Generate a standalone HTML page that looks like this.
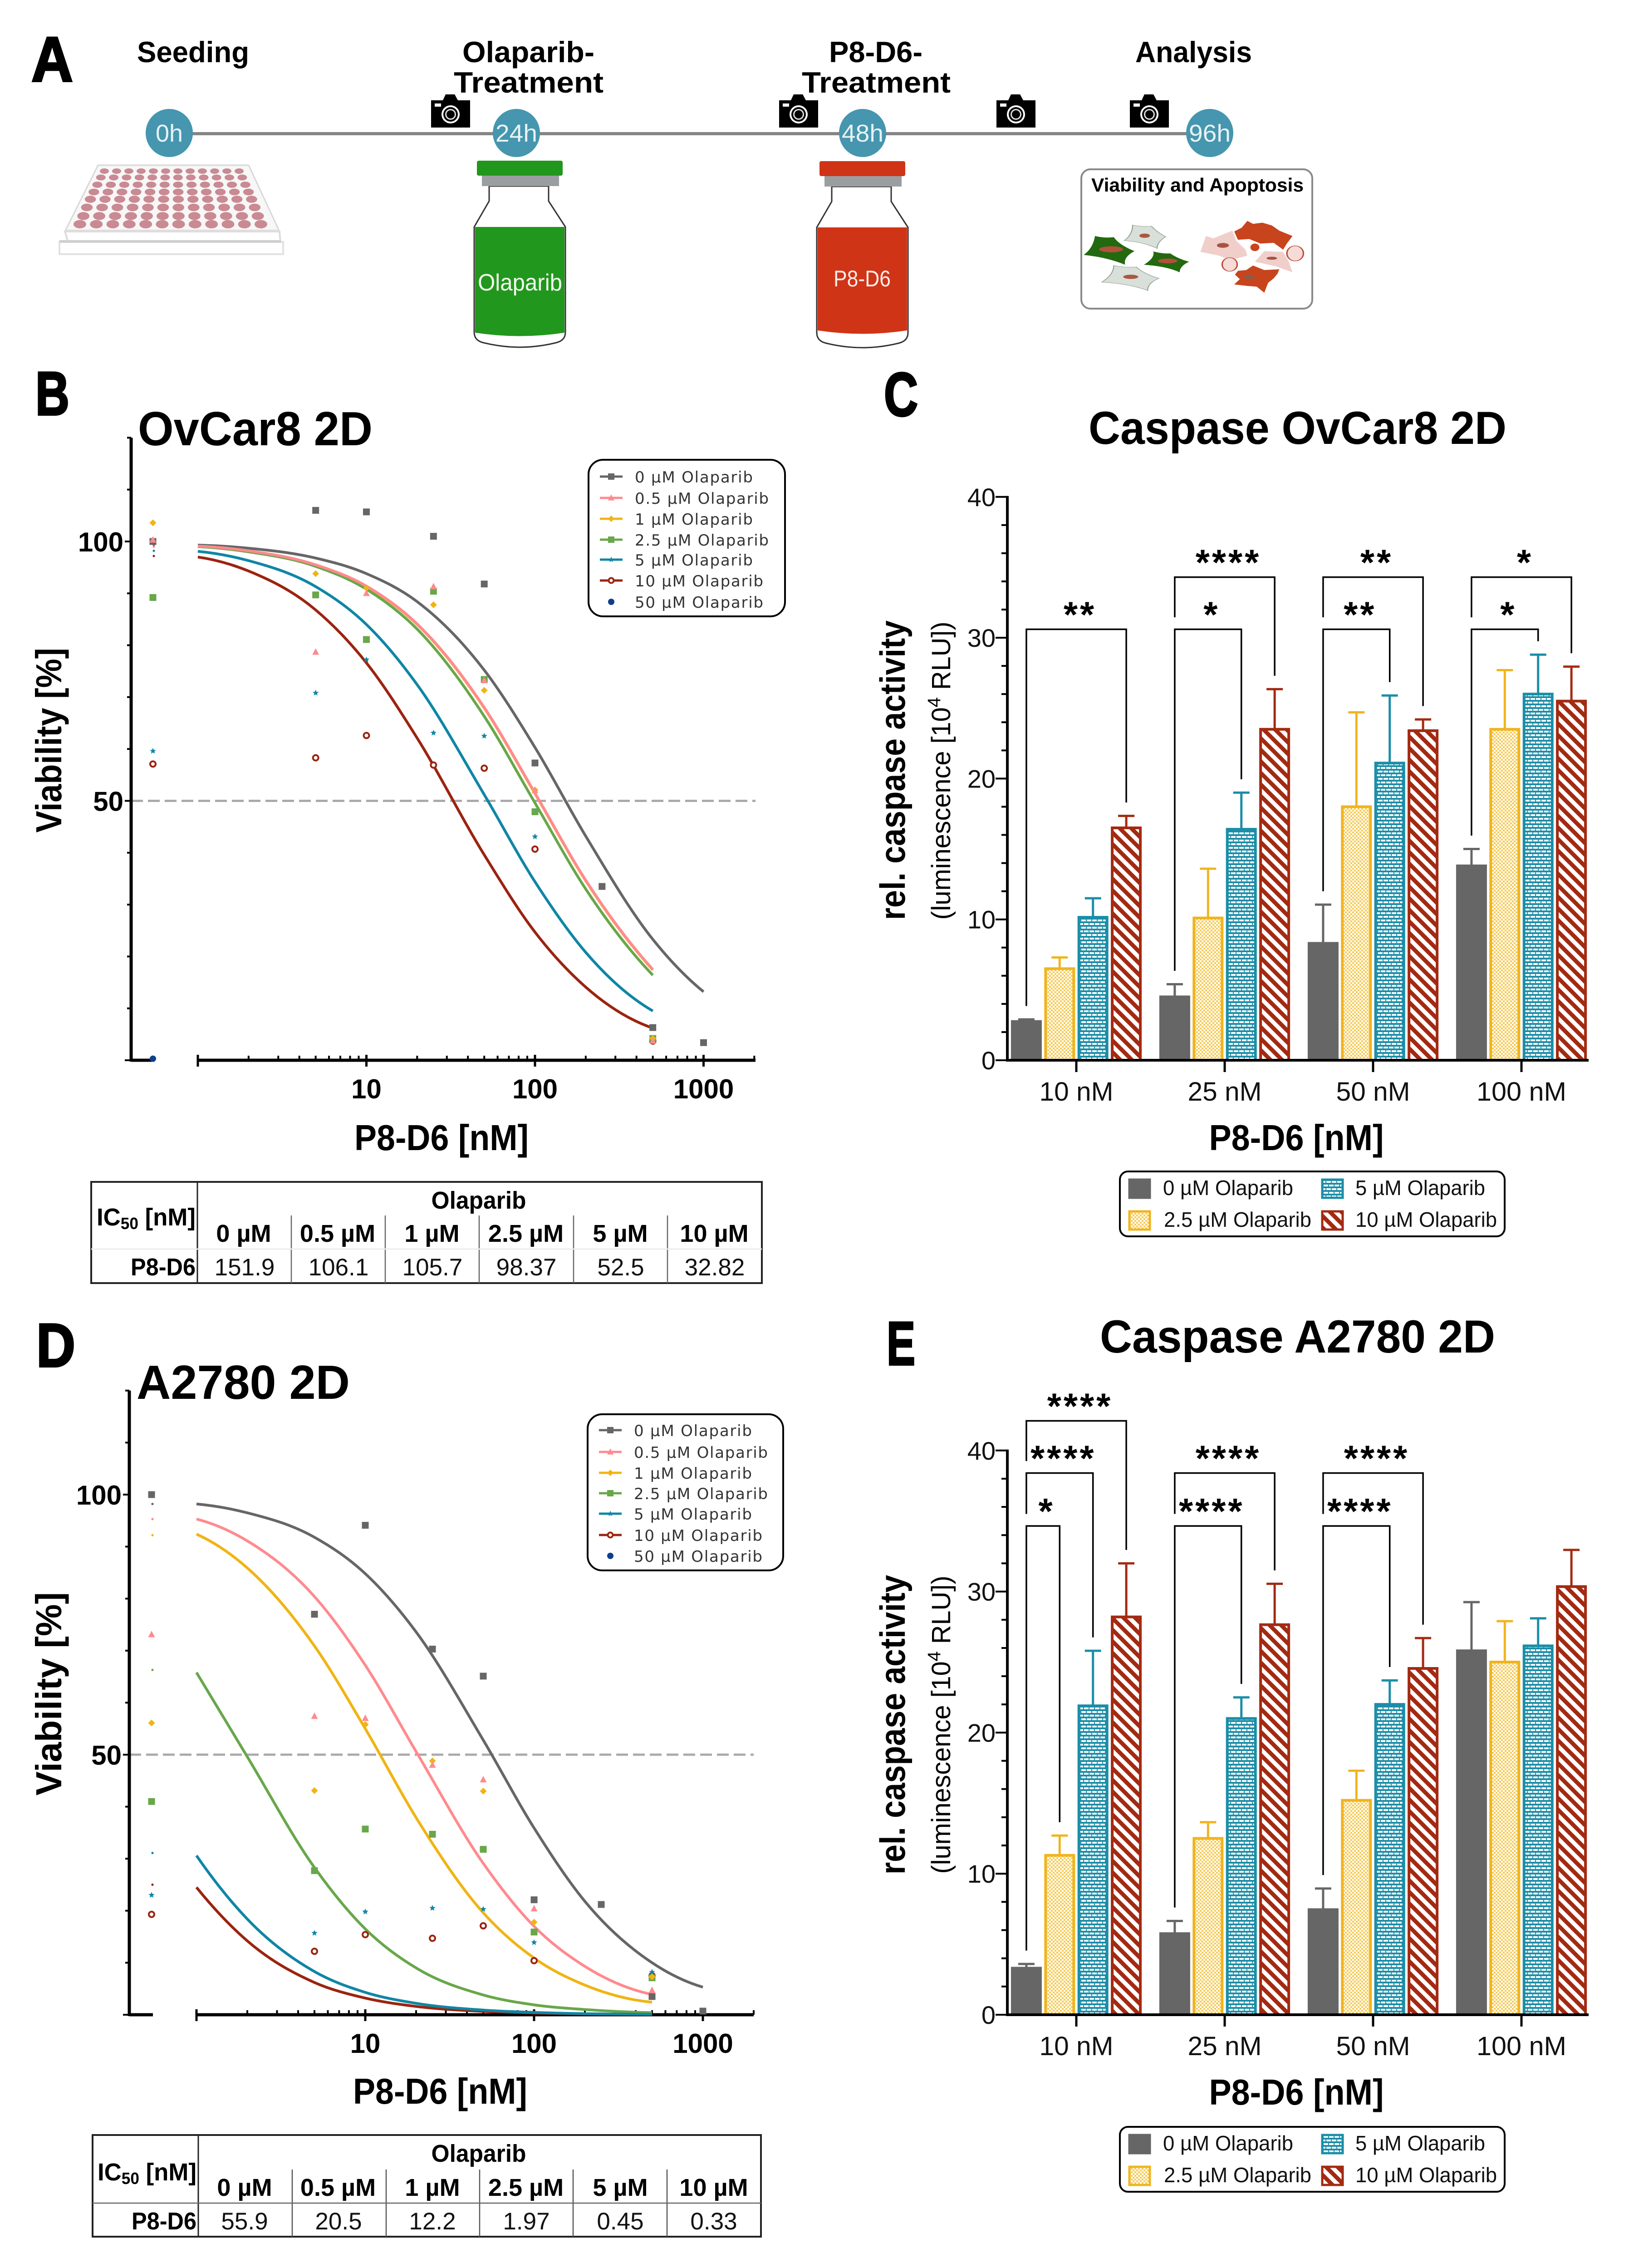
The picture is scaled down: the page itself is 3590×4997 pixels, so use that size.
<!DOCTYPE html>
<html lang="en">
<head>
<meta charset="utf-8">
<title>P8-D6 and Olaparib viability and caspase figure</title>
<style>
html,body{margin:0;padding:0;background:#fff}
svg{display:block}
text{font-family:"Liberation Sans",sans-serif;fill:#000}
.b{font-weight:700}
.pl{font-weight:700;stroke:#000;stroke-width:4px}
.th{font-weight:700;font-size:54px;text-anchor:middle}
.td{font-size:53px;text-anchor:middle;fill:#111}
.leg{font-size:46px;fill:#111}
</style>
</head>
<body>
<svg id="figure" xmlns="http://www.w3.org/2000/svg" width="3590" height="4997" viewBox="0 0 3590 4997">
<defs>
  <pattern id="pat-yellow" patternUnits="userSpaceOnUse" width="8" height="8">
    <rect width="8" height="8" fill="#f5cb58"/><rect width="4" height="4" fill="#fff"/><rect x="4" y="4" width="4" height="4" fill="#fff"/>
  </pattern>
  <pattern id="pat-teal" patternUnits="userSpaceOnUse" width="24" height="16">
    <rect width="24" height="16" fill="#1f8ea8"/>
    <rect x="1" y="2" width="10" height="4" fill="#fff"/><rect x="13" y="2" width="10" height="4" fill="#fff"/>
    <rect x="-5" y="10" width="10" height="4" fill="#fff"/><rect x="7" y="10" width="10" height="4" fill="#fff"/><rect x="19" y="10" width="10" height="4" fill="#fff"/>
  </pattern>
  <pattern id="pat-red" patternUnits="userSpaceOnUse" width="18" height="18" patternTransform="rotate(-45)">
    <rect width="18" height="18" fill="#fff"/><rect width="9" height="18" fill="#a32a12"/>
  </pattern>
  <g id="camera">
    <path d="M0,13H26L32,0H52L59,13H86V73H0Z" fill="#000"/>
    <rect x="8" y="20" width="14" height="7" fill="#fff"/>
    <circle cx="43" cy="44" r="20" fill="#fff"/><circle cx="43" cy="44" r="16" fill="#000"/><circle cx="43" cy="44" r="12" fill="#ddd"/><circle cx="43" cy="44" r="9" fill="#000"/>
  </g>
</defs>
<rect width="3590" height="4997" fill="#fff"/>

<!-- PANEL A -->
<g>
  <text class="pl" x="69" y="179" font-size="140" textLength="92" lengthAdjust="spacingAndGlyphs">A</text>
  <text class="b" x="302" y="137" font-size="65" textLength="247" lengthAdjust="spacingAndGlyphs">Seeding</text>
  <text class="b" x="1019" y="137" font-size="65" textLength="291" lengthAdjust="spacingAndGlyphs">Olaparib-</text>
  <text class="b" x="1000" y="204" font-size="65" textLength="330" lengthAdjust="spacingAndGlyphs">Treatment</text>
  <text class="b" x="1827" y="137" font-size="65" textLength="206" lengthAdjust="spacingAndGlyphs">P8-D6-</text>
  <text class="b" x="1767" y="204" font-size="65" textLength="328" lengthAdjust="spacingAndGlyphs">Treatment</text>
  <text class="b" x="2502" y="137" font-size="65" textLength="257" lengthAdjust="spacingAndGlyphs">Analysis</text>

  <rect x="373" y="291" width="2292" height="7" fill="#858585"/>
  <g><ellipse cx="373" cy="293" rx="52" ry="53" fill="#4596ae"/><text x="373" y="312" font-size="54" text-anchor="middle" style="fill:#e8f2f5">0h</text></g>
  <g><ellipse cx="1138" cy="293" rx="52" ry="53" fill="#4596ae"/><text x="1138" y="312" font-size="54" text-anchor="middle" textLength="92" lengthAdjust="spacingAndGlyphs" style="fill:#e8f2f5">24h</text></g>
  <g><ellipse cx="1901" cy="293" rx="52" ry="53" fill="#4596ae"/><text x="1901" y="312" font-size="54" text-anchor="middle" textLength="92" lengthAdjust="spacingAndGlyphs" style="fill:#e8f2f5">48h</text></g>
  <g><ellipse cx="2666" cy="293" rx="52" ry="53" fill="#4596ae"/><text x="2666" y="312" font-size="54" text-anchor="middle" textLength="92" lengthAdjust="spacingAndGlyphs" style="fill:#e8f2f5">96h</text></g>

  <use href="#camera" x="950" y="208"/>
  <use href="#camera" x="1717" y="208"/>
  <use href="#camera" x="2196" y="208"/>
  <use href="#camera" x="2490" y="208"/>

  <g id="plate">
    <path d="M131,533H624V560H131Z" fill="#fff" stroke="#e2e2e2" stroke-width="4"/>
    <path d="M143,510L150,533H618L616,510Z" fill="#fff" stroke="#dcdcdc" stroke-width="4"/>
    <path d="M216,364H548L616,510H143Z" fill="#f7f7f7" stroke="#d8d8d8" stroke-width="3"/>
    <rect x="131" y="529" width="488" height="6" fill="#cfcfcf"/>
    <rect x="143" y="506" width="473" height="5" fill="#dedede"/>
  </g>

  <g>
    <path d="M1078,410V443L1045,500V732Q1045,750 1065,755Q1146,775 1226,755Q1246,750 1246,732V500L1209,443V410Z" fill="#fff" stroke="#333" stroke-width="3"/>
    <path d="M1047,500H1244V733Q1146,748 1047,733Z" fill="#22971d"/>
    <rect x="1062" y="386" width="170" height="24" fill="#9b9ea1"/>
    <rect x="1051" y="354" width="189" height="33" rx="4" fill="#22971d"/>
    <text x="1146" y="640" font-size="52" text-anchor="middle" textLength="186" lengthAdjust="spacingAndGlyphs" style="fill:#f2f8f0">Olaparib</text>
  </g>
  <g transform="translate(755,1)">
    <path d="M1078,410V443L1045,500V732Q1045,750 1065,755Q1146,775 1226,755Q1246,750 1246,732V500L1209,443V410Z" fill="#fff" stroke="#333" stroke-width="3"/>
    <path d="M1047,500H1244V727Q1146,742 1047,727Z" fill="#d03416"/>
    <rect x="1062" y="386" width="170" height="24" fill="#9b9ea1"/>
    <rect x="1051" y="354" width="189" height="33" rx="4" fill="#d03416"/>
    <text x="1145" y="630" font-size="50" text-anchor="middle" textLength="126" lengthAdjust="spacingAndGlyphs" style="fill:#f8eeea">P8-D6</text>
  </g>

  <g>
    <rect x="2383" y="373" width="509" height="307" rx="20" fill="#fff" stroke="#8a8a8a" stroke-width="4"/>
    <text class="b" x="2405" y="422" font-size="42" textLength="468" lengthAdjust="spacingAndGlyphs">Viability and Apoptosis</text>
    <g transform="translate(1700,200) scale(0.8292,0.3333)">
      <path d="M938,990Q960,950 960,888Q985,900 1010,895Q1025,935 1048,965Q1025,1000 1025,1042Q990,1000 938,990Z" fill="#d9dfd9" stroke="#9aa89a" stroke-width="3"/>
      <ellipse cx="992" cy="958" rx="14" ry="14" fill="#a9583f"/>
      <path d="M878,1265Q910,1215 910,1155Q940,1170 970,1165Q990,1210 1030,1240Q1000,1270 1000,1320Q950,1275 878,1265Z" fill="#d9dfd9" stroke="#9aa89a" stroke-width="3"/>
      <ellipse cx="955" cy="1230" rx="20" ry="14" fill="#a9583f"/>
      <path d="M830,1085Q855,1040 860,960Q885,975 910,968Q925,1020 965,1060Q935,1100 940,1150Q890,1100 830,1085Z" fill="#22690f"/>
      <ellipse cx="903" cy="1048" rx="32" ry="20" fill="#b0513a"/>
      <path d="M990,1150Q1020,1105 1015,1062Q1040,1078 1060,1075Q1080,1110 1110,1130Q1085,1160 1085,1200Q1050,1160 990,1150Z" fill="#22690f"/>
      <ellipse cx="1053" cy="1125" rx="26" ry="16" fill="#b0513a"/>
      <path d="M1140,1065L1155,960L1175,975L1225,925L1235,990L1260,1050L1265,1090L1220,1120L1190,1090Z" fill="#f0cfcb"/>
      <path d="M1285,1130L1310,1060L1360,1065L1375,1130L1385,1200L1340,1160Z" fill="#f0cfcb"/>
      <path d="M1230,930L1250,905L1265,860L1280,880L1305,872L1330,890L1350,925L1385,960L1370,1010L1360,1050L1335,1005L1300,1010L1270,980L1240,985Z" fill="#c8441c"/>
      <path d="M1230,1280L1245,1245L1232,1215L1240,1190L1262,1185L1280,1155L1310,1185L1350,1180L1345,1210L1335,1240L1320,1270L1310,1335L1290,1295L1265,1290Z" fill="#c8441c"/>
      <ellipse cx="1285" cy="1035" rx="12" ry="25" fill="#c8441c"/>
      <ellipse cx="1392" cy="1075" rx="22" ry="50" fill="#f6dcd8" stroke="#c0503c" stroke-width="4"/>
      <ellipse cx="1218" cy="1148" rx="20" ry="45" fill="#f6dcd8" stroke="#c0503c" stroke-width="4"/>
      <ellipse cx="1200" cy="1022" rx="16" ry="16" fill="#a8533f"/>
      <ellipse cx="1330" cy="1107" rx="14" ry="10" fill="#a8533f"/>
      <ellipse cx="1270" cy="1230" rx="14" ry="15" fill="#8c5a48"/>
    </g>
  </g>
</g>

<!-- PANEL B static text -->
<g id="panel-b">
  <text class="pl" x="78" y="914" font-size="136" textLength="75" lengthAdjust="spacingAndGlyphs">B</text>
  <text class="b" x="304" y="981" font-size="106" textLength="517" lengthAdjust="spacingAndGlyphs">OvCar8 2D</text>
  <text class="b" transform="translate(135,1631) rotate(-90)" font-size="80" text-anchor="middle" textLength="407" lengthAdjust="spacingAndGlyphs">Viability [%]</text>
  <text class="b" x="973" y="2534" font-size="80" text-anchor="middle" textLength="384" lengthAdjust="spacingAndGlyphs">P8-D6 [nM]</text>
</g>
<g>
  <rect x="201" y="2604" width="1478" height="223" fill="none" stroke="#222" stroke-width="4"/>
  <path d="M435,2604V2827" stroke="#222" stroke-width="3"/>
  <path d="M642,2678V2827M849,2678V2827M1056,2678V2827M1264,2678V2827M1471,2678V2827" stroke="#666" stroke-width="2.5"/>
  <path d="M201,2752H1679" stroke="#ececec" stroke-width="3"/>
  <text class="b" x="213" y="2700" font-size="54" textLength="218" lengthAdjust="spacingAndGlyphs">IC<tspan font-size="36" dy="8">50</tspan><tspan dy="-8"> [nM]</tspan></text>
  <text class="th" x="1055" y="2663" textLength="209" lengthAdjust="spacingAndGlyphs">Olaparib</text>
  <text class="th" x="537" y="2736">0 µM</text>
  <text class="th" x="744" y="2736">0.5 µM</text>
  <text class="th" x="952" y="2736">1 µM</text>
  <text class="th" x="1159" y="2736">2.5 µM</text>
  <text class="th" x="1367" y="2736">5 µM</text>
  <text class="th" x="1574" y="2736">10 µM</text>
  <text class="b" x="431" y="2810" font-size="54" text-anchor="end" textLength="143" lengthAdjust="spacingAndGlyphs">P8-D6</text>
  <text class="td" x="539" y="2810">151.9</text>
  <text class="td" x="746" y="2810">106.1</text>
  <text class="td" x="953" y="2810">105.7</text>
  <text class="td" x="1160" y="2810">98.37</text>
  <text class="td" x="1368" y="2810">52.5</text>
  <text class="td" x="1575" y="2810">32.82</text>
</g>

<!-- PANEL C static text -->
<g id="panel-c">
  <text class="pl" x="1948" y="916" font-size="136" textLength="75" lengthAdjust="spacingAndGlyphs">C</text>
  <text class="b" x="2399" y="978" font-size="102" textLength="921" lengthAdjust="spacingAndGlyphs">Caspase OvCar8 2D</text>
  <text class="b" transform="translate(1994,1697) rotate(-90)" font-size="78" text-anchor="middle" textLength="660" lengthAdjust="spacingAndGlyphs">rel. caspase activity</text>
  <text transform="translate(2094,1698) rotate(-90)" font-size="58" text-anchor="middle" textLength="657" lengthAdjust="spacingAndGlyphs">(luminescence [10<tspan font-size="40" dy="-22">4</tspan><tspan dy="22"> RLU])</tspan></text>
  <text class="b" x="2857" y="2534" font-size="80" text-anchor="middle" textLength="385" lengthAdjust="spacingAndGlyphs">P8-D6 [nM]</text>
</g>

<!-- PANEL D static text -->
<g id="panel-d">
  <text class="pl" x="80" y="3011" font-size="136" textLength="86" lengthAdjust="spacingAndGlyphs">D</text>
  <text class="b" x="301" y="3082" font-size="106" textLength="470" lengthAdjust="spacingAndGlyphs">A2780 2D</text>
  <text class="b" transform="translate(135,3732) rotate(-90)" font-size="80" text-anchor="middle" textLength="448" lengthAdjust="spacingAndGlyphs">Viability [%]</text>
  <text class="b" x="970" y="4635" font-size="80" text-anchor="middle" textLength="384" lengthAdjust="spacingAndGlyphs">P8-D6 [nM]</text>
</g>
<g>
  <rect x="204" y="4704" width="1473" height="224" fill="none" stroke="#222" stroke-width="4"/>
  <path d="M437,4704V4928" stroke="#222" stroke-width="3"/>
  <path d="M644,4780V4928M851,4780V4928M1057,4780V4928M1263,4780V4928M1470,4780V4928" stroke="#555" stroke-width="2.5"/>
  <path d="M204,4854H1677" stroke="#666" stroke-width="2.5"/>
  <text class="b" x="215" y="4804" font-size="54" textLength="218" lengthAdjust="spacingAndGlyphs">IC<tspan font-size="36" dy="8">50</tspan><tspan dy="-8"> [nM]</tspan></text>
  <text class="th" x="1055" y="4763" textLength="209" lengthAdjust="spacingAndGlyphs">Olaparib</text>
  <text class="th" x="539" y="4838">0 µM</text>
  <text class="th" x="745" y="4838">0.5 µM</text>
  <text class="th" x="953" y="4838">1 µM</text>
  <text class="th" x="1159" y="4838">2.5 µM</text>
  <text class="th" x="1367" y="4838">5 µM</text>
  <text class="th" x="1573" y="4838">10 µM</text>
  <text class="b" x="433" y="4912" font-size="54" text-anchor="end" textLength="143" lengthAdjust="spacingAndGlyphs">P8-D6</text>
  <text class="td" x="539" y="4912">55.9</text>
  <text class="td" x="746" y="4912">20.5</text>
  <text class="td" x="953" y="4912">12.2</text>
  <text class="td" x="1160" y="4912">1.97</text>
  <text class="td" x="1367" y="4912">0.45</text>
  <text class="td" x="1573" y="4912">0.33</text>
</g>

<!-- PANEL E static text -->
<g id="panel-e">
  <text class="pl" x="1954" y="3007" font-size="136" textLength="63" lengthAdjust="spacingAndGlyphs">E</text>
  <text class="b" x="2424" y="2980" font-size="102" textLength="871" lengthAdjust="spacingAndGlyphs">Caspase A2780 2D</text>
  <text class="b" transform="translate(1994,3800) rotate(-90)" font-size="78" text-anchor="middle" textLength="660" lengthAdjust="spacingAndGlyphs">rel. caspase activity</text>
  <text transform="translate(2094,3800) rotate(-90)" font-size="58" text-anchor="middle" textLength="657" lengthAdjust="spacingAndGlyphs">(luminescence [10<tspan font-size="40" dy="-22">4</tspan><tspan dy="22"> RLU])</tspan></text>
  <text class="b" x="2857" y="4637" font-size="80" text-anchor="middle" textLength="385" lengthAdjust="spacingAndGlyphs">P8-D6 [nM]</text>
</g>
</svg>

<script>
/* ---------- shared categories ---------- */
const doseLegendLabels = ['0 µM Olaparib','0.5 µM Olaparib','1 µM Olaparib','2.5 µM Olaparib','5 µM Olaparib','10 µM Olaparib','50 µM Olaparib'];
const fitDoses = [1,2,5,10,20,50,100,200,500,1000];
const pointDoses = [0,5,10,25,50,100,500];
const controlDoses = [0,5,10,25,50,100,250,500,1000];
const xTickLabels = [10,100,1000];
const viabilityTicks = [0,10,20,30,40,50,60,70,80,90,100,110,120];
const viabilityLabels = [50,100];

/* ---------- Panel B: OvCar8 viability ---------- */
const bFit0 = [99.3,98.7,96.8,93.8,88.4,75.2,60.3,43.2,23.3,13.2];
const bFit05 = [99.1,98.2,95.5,91.4,84.1,68.0,51.5,34.7,17.5];
const bFit1 = [99.1,98.1,95.5,91.3,84.0,67.9,51.4,34.6,17.4];
const bFit25 = [99.0,98.0,95.2,90.8,83.1,66.3,49.6,33.0,16.4];
const bFit5 = [98.1,96.3,91.3,84.0,72.4,51.2,34.4,20.8,9.5];
const bFit10 = [97.0,94.3,86.8,76.6,62.1,39.6,24.7,14.1,6.2];
const bPts0 = [100,106,105.7,101,91.8,57.3,33.5,6.3,3.4];
const bPts05 = [100.3,78.7,90,91.3,73.2,52,3.7];
const bPts1 = [103.6,93.8,91,87.8,71.3,52.1,4.2];
const bPts25 = [89.2,89.7,81.1,90.4,73.4,47.9,4.2];
const bPts5 = [59.6,70.8,77.2,63.1,62.5,43.1,4];
const bPts10 = [57.1,58.3,62.6,56.9,56.3,40.7,3.7];
const bPts50 = [0.3];
const bCtrlDots = [99.3,99,99,99,98.2,97.2];

/* ---------- Panel D: A2780 viability ---------- */
const dFit0 = [98.2,96.5,91.8,84.8,73.6,52.8,35.9,21.8,10,5.3];
const dFit05 = [95.3,91.1,80.4,67.2,50.6,29.1,17,9.3,3.9];
const dFit1 = [92.4,85.9,70.9,55,37.9,19.6,10.9,5.7,2.4];
const dFit25 = [65.8,49.6,28.3,16.5,9,3.8,1.9,1,0.4];
const dFit5 = [30.6,18.4,8.3,4.3,2.2,0.9,0.45,0.2,0.1];
const dFit10 = [24.5,14.2,6.2,3.2,1.6,0.65,0.33,0.16,0.07];
const dPts0 = [100,77,94.1,70.3,65.1,22.1,21.2,3.5,0.7];
const dPts05 = [73.1,57.4,57,48,45.2,20.4,4.7];
const dPts1 = [56.1,43.1,55.8,48.8,43,17.8,7.3];
const dPts25 = [41,27.7,35.7,34.7,31.8,15.9,7.1];
const dPts5 = [23,15.7,19.8,20.5,20.3,13.9,8.2];
const dPts10 = [19.3,12.2,15.4,14.7,17.1,10.4,7.5];
const dPts50 = [];
const dCtrlDots = [98.2,95.3,92.2,66.3,31.1,25];

/* ---------- Panels C & E: caspase ---------- */
const caspaseCategories = ['10 nM','25 nM','50 nM','100 nM'];
const caspaseSeriesLabels = ['0 µM Olaparib','2.5 µM Olaparib','5 µM Olaparib','10 µM Olaparib'];
const caspaseTicks = [0,2,4,6,8,10,12,14,16,18,20,22,24,26,28,30,32,34,36,38,40];
const caspaseLabels = [0,10,20,30,40];

const cMeans0 = [2.75,4.5,8.3,13.8];
const cMeans25 = [6.5,10.1,18,23.5];
const cMeans5 = [10.15,16.4,21.1,26];
const cMeans10 = [16.5,23.5,23.4,25.5];
const cErr0 = [2.9,5.4,11.05,15];
const cErr25 = [7.3,13.6,24.7,27.7];
const cErr5 = [11.5,19,25.9,28.8];
const cErr10 = [17.35,26.35,24.2,27.95];
/* each bracket: category index, target series index, bracket level, stars */
const cBrackets = [[0,3,30.6,'**'],[1,2,30.6,'*'],[1,3,34.3,'****'],[2,2,30.6,'**'],[2,3,34.3,'**'],[3,2,30.6,'*'],[3,3,34.3,'*']];

const eMeans0 = [3.3,5.75,7.45,25.8];
const eMeans25 = [11.3,12.5,15.2,25];
const eMeans5 = [21.9,21,22,26.15];
const eMeans10 = [28.2,27.65,24.55,30.35];
const eErr0 = [3.6,6.65,8.95,29.25];
const eErr25 = [12.7,13.65,17.3,27.9];
const eErr5 = [25.8,22.5,23.7,28.1];
const eErr10 = [32,30.55,26.7,32.95];
const eBrackets = [[0,1,34.65,'*'],[0,2,38.4,'****'],[0,3,42.1,'****'],[1,2,34.65,'****'],[1,3,38.4,'****'],[2,2,34.65,'****'],[2,3,38.4,'****']];

/* ---------- styling tables ---------- */
const doseColors = ['#666666','#ff8a8e','#f0b414','#68a74a','#0f86a5','#9b2410','#0d3f8c'];
const doseSlugs = ['0-um','0-5-um','1-um','2-5-um','5-um','10-um','50-um'];
const doseMarkers = ['square','triangle','diamond','square','star','ring','circle'];
const curveOrder = [0,2,3,5,4,1];
const barFills = ['#666666','url(#pat-yellow)','url(#pat-teal)','url(#pat-red)'];
const barStrokes = ['#666666','#f0b41e','#1a8ea8','#a32a12'];
const barSlugs = ['0-um','2-5-um','5-um','10-um'];

const NS = 'http://www.w3.org/2000/svg';
const svgRoot = document.getElementById('figure');
function mk(tag, attrs, parent) {
  const node = document.createElementNS(NS, tag);
  for (const k in attrs) node.setAttribute(k, attrs[k]);
  parent.appendChild(node);
  return node;
}

/* ---------- plate wells (illustration) ---------- */
(function () {
  const plate = document.getElementById('plate');
  const rowY = [377,391,407,423,439,457,476,494];
  rowY.forEach(function (y, r) {
    const t = r / 7;
    const left = 230 - 54 * t, right = 527 + 48 * t;
    for (let c = 0; c < 12; c++) {
      const el = mk('ellipse', {cx: left + (right - left) * c / 11, cy: y, rx: 10 + 4 * t, ry: 6 + 3.2 * t, fill: '#c98a93'}, plate);
      
      
    }
  });
})();

/* ---------- markers ---------- */
function marker(kind, x, y, color, parent, s) {
  let el;
  const k = s || 7.5;
  if (kind === 'square') el = mk('rect', {x: x - k, y: y - k, width: 2 * k, height: 2 * k, fill: color}, parent);
  else if (kind === 'triangle') el = mk('polygon', {points: [x, y - k * 1.1, x + k, y + k * .8, x - k, y + k * .8].join(','), fill: color}, parent);
  else if (kind === 'diamond') el = mk('polygon', {points: [x, y - k, x + k, y, x, y + k, x - k, y].join(','), fill: color}, parent);
  else if (kind === 'ring') el = mk('circle', {cx: x, cy: y, r: k - 1.5, fill: '#fff', stroke: color, 'stroke-width': 4}, parent);
  else if (kind === 'circle') el = mk('circle', {cx: x, cy: y, r: k, fill: color}, parent);
  else {
    const pts = [];
    for (let i = 0; i < 10; i++) {
      const rad = i % 2 ? k * .42 : k * .95, a = -Math.PI / 2 + i * Math.PI / 5;
      pts.push(x + rad * Math.cos(a), y + rad * Math.sin(a));
    }
    el = mk('polygon', {points: pts.join(','), fill: color}, parent);
  }
  return el;
}

/* Smooth curve through fitted values: Hermite tangents weighted by true x spacing */
function smoothPath(p) {
  const n = p.length, h = [], sl = [], m = [];
  for (let i = 0; i < n - 1; i++) {
    h[i] = p[i + 1][0] - p[i][0];
    sl[i] = (p[i + 1][1] - p[i][1]) / h[i];
  }
  for (let i = 1; i < n - 1; i++) m[i] = (h[i] * sl[i - 1] + h[i - 1] * sl[i]) / (h[i - 1] + h[i]);
  m[0] = 2 * sl[0] - m[1];
  m[n - 1] = 2 * sl[n - 2] - m[n - 2];
  let d = 'M' + p[0][0] + ',' + p[0][1];
  for (let i = 0; i < n - 1; i++) {
    d += 'C' + (p[i][0] + h[i] / 3) + ',' + (p[i][1] + m[i] * h[i] / 3) + ',' +
      (p[i + 1][0] - h[i] / 3) + ',' + (p[i + 1][1] - m[i + 1] * h[i] / 3) + ',' + p[i + 1][0] + ',' + p[i + 1][1];
  }
  return d;
}

/* ---------- viability panels ---------- */
function drawViability(cfg, fits, pts, extra, dots) {
  const g = document.getElementById(cfg.id);
  const xs = function (d) { return cfg.x1 + cfg.dec * Math.log10(d); };
  const ys = function (v) { return cfg.y0 - cfg.unit * v; };
  const tag = cfg.tag;

  const ref = mk('line', {x1: cfg.axisX, x2: cfg.xEnd, y1: ys(50), y2: ys(50), stroke: '#aaaaaa', 'stroke-width': 5, 'stroke-dasharray': '26 11'}, g);
  
  

  const yAxis = mk('line', {x1: cfg.axisX, x2: cfg.axisX, y1: ys(120), y2: cfg.y0 + 3, stroke: '#000', 'stroke-width': 7}, g);
  
  
  const ctrlAxis = mk('line', {x1: cfg.axisX, x2: cfg.zeroX + 3, y1: cfg.y0, y2: cfg.y0, stroke: '#000', 'stroke-width': 7}, g);
  
  
  const xAxis = mk('line', {x1: xs(1), x2: cfg.xEnd, y1: cfg.y0, y2: cfg.y0, stroke: '#000', 'stroke-width': 7}, g);
  
  

  viabilityTicks.forEach(function (v) {
    const labelled = viabilityLabels.indexOf(v) >= 0 || v === 0;
    const tick = mk('line', {x1: cfg.axisX - (labelled ? 14 : 9), x2: cfg.axisX, y1: ys(v), y2: ys(v), stroke: '#000', 'stroke-width': 4}, g);
    
    
  });
  viabilityLabels.forEach(function (v) {
    const lab = mk('text', {x: cfg.axisX - 17, y: ys(v) + 22, 'font-size': 60, 'text-anchor': 'end', 'font-weight': 700}, g);
    lab.textContent = v;
    
    
  });
  for (let dec = 1; dec <= 1000; dec *= 10) {
    for (let m = 1; m < 10; m++) {
      const d = dec * m;
      if (d > 2000) break;
      const major = m === 1;
      const tick = mk('line', {x1: xs(d), x2: xs(d), y1: cfg.y0 - (major ? 12 : 10), y2: cfg.y0 + (major ? 14 : 0), stroke: '#000', 'stroke-width': major ? 5 : 4}, g);
      
      
    }
  }
  xTickLabels.forEach(function (d) {
    const lab = mk('text', {x: xs(d), y: cfg.y0 + 84, 'font-size': 60, 'text-anchor': 'middle', 'font-weight': 700}, g);
    lab.textContent = d;
    
    
  });

  curveOrder.forEach(function (s) {
    const p = fits[s].map(function (v, i) { return [xs(fitDoses[i]), ys(v)]; });
    const curve = mk('path', {d: smoothPath(p), fill: 'none', stroke: doseColors[s], 'stroke-width': 6}, g);
    
    
  });

  [0, 5, 4, 3, 2, 1].forEach(function (s) {
    const doses = s === 0 ? controlDoses : pointDoses;
    pts[s].forEach(function (v, i) {
      const x = doses[i] === 0 ? cfg.zeroX : xs(doses[i]);
      const el = marker(doseMarkers[s], x, ys(v), doseColors[s], g, 7.5);
      
      
    });
    const dot = mk('circle', {cx: cfg.zeroX + 2, cy: ys(dots[s]), r: 2.6, fill: doseColors[s]}, g);
    
    
  });
  extra.forEach(function (v) {
    const el = marker('circle', cfg.zeroX, ys(v), doseColors[6], g, 7);
    
    
  });

  /* legend */
  const box = mk('rect', {x: cfg.legX, y: cfg.legY, width: cfg.legW, height: cfg.legH, rx: 32, fill: '#fff', stroke: '#000', 'stroke-width': 4}, g);
  
  
  doseLegendLabels.forEach(function (label, s) {
    const rowY = cfg.legRows[s];
    const sx = cfg.legX + 50;
    if (s < 6) {
      const sw = mk('line', {x1: sx - 25, x2: sx + 25, y1: rowY, y2: rowY, stroke: doseColors[s], 'stroke-width': 5}, g);
      
      
    }
    const mm = marker(doseMarkers[s], sx, rowY, doseColors[s], g, 7);
    
    
    const t = mk('text', {x: cfg.legX + 102, y: rowY + 13, 'font-size': 34, style: 'font-family:"DejaVu Sans",sans-serif;fill:#333', textLength: s === 0 || s === 2 || s === 4 ? 260 : (s === 1 || s === 3 ? 295 : 283), lengthAdjust: 'spacing'}, g);
    t.textContent = label;
    
    
  });
}

drawViability(
  {id: 'panel-b', tag: 'b', x1: 436, dec: 371.5, y0: 2336, unit: 11.43, axisX: 289, zeroX: 337, xEnd: 1665, legX: 1297, legY: 1013, legW: 433, legH: 345, legRows: [1050,1097,1143,1189,1233,1279,1326]},
  [bFit0, bFit05, bFit1, bFit25, bFit5, bFit10],
  [bPts0, bPts05, bPts1, bPts25, bPts5, bPts10],
  bPts50, bCtrlDots
);
drawViability(
  {id: 'panel-d', tag: 'd', x1: 433, dec: 372, y0: 4439, unit: 11.46, axisX: 285, zeroX: 334, xEnd: 1661, legX: 1295, legY: 3116, legW: 431, legH: 344, legRows: [3151,3199,3245,3290,3335,3382,3428]},
  [dFit0, dFit05, dFit1, dFit25, dFit5, dFit10],
  [dPts0, dPts05, dPts1, dPts25, dPts5, dPts10],
  dPts50, dCtrlDots
);

/* ---------- caspase panels ---------- */
function drawCaspase(cfg, means, errs, brackets) {
  const g = document.getElementById(cfg.id);
  const tag = cfg.tag;
  const ys = function (v) { return cfg.y0 - cfg.unit * v; };
  const xs = function (cat, s) { return 2372 + cat * 327 + (s - 1.5) * 73.4; };

  const yAxis = mk('line', {x1: 2220, x2: 2220, y1: ys(40) - 2, y2: cfg.y0 + 3, stroke: '#000', 'stroke-width': 6}, g);
  
  
  caspaseTicks.forEach(function (v) {
    const major = v % 10 === 0;
    const tick = mk('line', {x1: 2220 - (major ? 26 : 13), x2: 2220, y1: ys(v), y2: ys(v), stroke: '#000', 'stroke-width': 4}, g);
    
    
  });
  caspaseLabels.forEach(function (v) {
    const lab = mk('text', {x: 2194, y: ys(v) + 20, 'font-size': 56, 'text-anchor': 'end', style: 'fill:#111'}, g);
    lab.textContent = v;
    
    
  });

  means.forEach(function (series, s) {
    series.forEach(function (v, cat) {
      const x = xs(cat, s);
      const stem = mk('line', {x1: x, x2: x, y1: ys(errs[s][cat]), y2: ys(v), stroke: barStrokes[s], 'stroke-width': 5}, g);
      
      
      const cap = mk('line', {x1: x - 18, x2: x + 18, y1: ys(errs[s][cat]), y2: ys(errs[s][cat]), stroke: barStrokes[s], 'stroke-width': 5}, g);
      
      
      const bar = mk('rect', {x: x - 31, y: ys(v), width: 62, height: cfg.y0 - ys(v), fill: barFills[s], stroke: barStrokes[s], 'stroke-width': 6}, g);
      
      
    });
  });

  const xAxis = mk('line', {x1: 2217, x2: 3501, y1: cfg.y0, y2: cfg.y0, stroke: '#000', 'stroke-width': 6}, g);
  
  
  caspaseCategories.forEach(function (label, cat) {
    const cx = 2372 + cat * 327;
    const tick = mk('line', {x1: cx, x2: cx, y1: cfg.y0, y2: cfg.y0 + 26, stroke: '#000', 'stroke-width': 5}, g);
    
    
    const lab = mk('text', {x: cx, y: cfg.y0 + 89, 'font-size': 58, 'text-anchor': 'middle', style: 'fill:#111', textLength: cat === 3 ? 198 : 163, lengthAdjust: 'spacingAndGlyphs'}, g);
    lab.textContent = label;
    
    
  });

  brackets.forEach(function (b) {
    const cat = b[0], to = b[1], level = b[2], stars = b[3];
    const lower = brackets.filter(function (o) { return o[0] === cat && o[2] < level; }).map(function (o) { return o[2]; });
    const leftBase = lower.length ? Math.max.apply(null, lower) + 0.85 : errs[0][cat] + 0.95;
    const rightBase = errs[to][cat] + 0.95;
    const xl = xs(cat, 0), xr = xs(cat, to), yTop = ys(level);
    const path = mk('path', {d: 'M' + xl + ',' + ys(leftBase) + 'V' + yTop + 'H' + xr + 'V' + ys(rightBase), fill: 'none', stroke: '#000', 'stroke-width': 3.5}, g);
    
    
    const st = mk('text', {x: (xl + xr) / 2 + 8, y: yTop - 5, 'font-size': 80, 'font-weight': 700, 'text-anchor': 'middle', 'letter-spacing': 5}, g);
    st.textContent = stars;
    
    
  });

  /* legend */
  const box = mk('rect', {x: 2468, y: cfg.legY, width: 848, height: 143, rx: 18, fill: '#fff', stroke: '#000', 'stroke-width': 4}, g);
  
  
  const slots = [[2487, 2563, 0], [2487, 2565, 1], [2912, 2987, 0], [2912, 2987, 1]];
  const widths = [287, 325, 286, 312];
  caspaseSeriesLabels.forEach(function (label, s) {
    const rowTop = cfg.legY + (slots[s][2] ? 86 : 16);
    const sw = mk('rect', {x: slots[s][0] + 2, y: rowTop + 2, width: 45, height: 40, fill: barFills[s], stroke: barStrokes[s], 'stroke-width': 5}, g);
    
    
    const t = mk('text', {x: slots[s][1], y: rowTop + 36, class: 'leg', textLength: widths[s], lengthAdjust: 'spacingAndGlyphs'}, g);
    t.textContent = label;
    
    
  });
}

drawCaspase({id: 'panel-c', tag: 'c', y0: 2336, unit: 31.03, legY: 2581},
  [cMeans0, cMeans25, cMeans5, cMeans10], [cErr0, cErr25, cErr5, cErr10], cBrackets);
drawCaspase({id: 'panel-e', tag: 'e', y0: 4439, unit: 31.08, legY: 4686},
  [eMeans0, eMeans25, eMeans5, eMeans10], [eErr0, eErr25, eErr5, eErr10], eBrackets);
</script>
</body>
</html>
